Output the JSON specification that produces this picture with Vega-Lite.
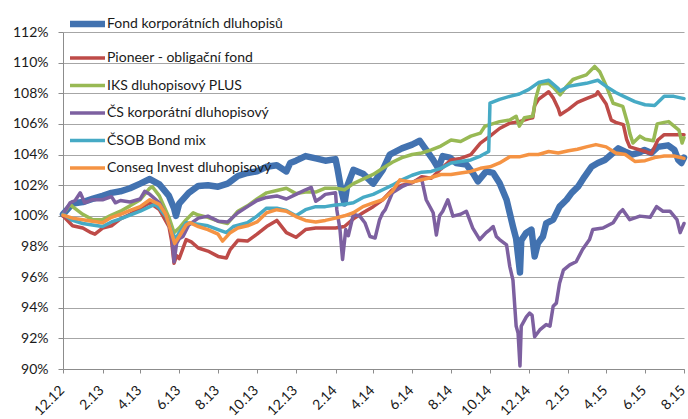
{
"$schema":"https://vega.github.io/schema/vega-lite/v6.json",
"width":621,"height":337,
"autosize":{"type":"none"},
"padding":{"left":63,"top":32,"right":4,"bottom":50},
"background":"white",
"config":{"view":{"stroke":null},"font":"Lato"},
"datasets":{"names":[{"code":"A","name":"Fond korporátních dluhopisů"},{"code":"B","name":"Pioneer - obligační fond"},{"code":"C","name":"IKS dluhopisový PLUS"},{"code":"D","name":"ČS korporátní dluhopisový"},{"code":"E","name":"ČSOB Bond mix"},{"code":"F","name":"Conseq Invest dluhopisový"}]},
"data":{"values":[
{"s":"A","d":"2012-12-01","v":100.1},{"s":"A","d":"2012-12-16","v":100.8},{"s":"A","d":"2013-01-01","v":100.9},{"s":"A","d":"2013-01-16","v":101.1},{"s":"A","d":"2013-02-01","v":101.3},{"s":"A","d":"2013-02-15","v":101.5},{"s":"A","d":"2013-03-01","v":101.6},{"s":"A","d":"2013-03-16","v":101.8},{"s":"A","d":"2013-04-01","v":102.1},{"s":"A","d":"2013-04-16","v":102.4},{"s":"A","d":"2013-05-01","v":102.05},{"s":"A","d":"2013-05-16","v":101.3},{"s":"A","d":"2013-05-24","v":100.5},{"s":"A","d":"2013-05-27","v":100.0},{"s":"A","d":"2013-06-01","v":100.8},{"s":"A","d":"2013-06-16","v":101.5},{"s":"A","d":"2013-07-01","v":101.95},{"s":"A","d":"2013-07-16","v":102.0},{"s":"A","d":"2013-08-01","v":101.9},{"s":"A","d":"2013-08-16","v":102.1},{"s":"A","d":"2013-09-01","v":102.6},{"s":"A","d":"2013-09-16","v":102.8},{"s":"A","d":"2013-10-01","v":102.9},{"s":"A","d":"2013-10-16","v":103.2},{"s":"A","d":"2013-11-01","v":103.3},{"s":"A","d":"2013-11-16","v":102.9},{"s":"A","d":"2013-11-22","v":103.45},{"s":"A","d":"2013-12-01","v":103.6},{"s":"A","d":"2013-12-16","v":103.9},{"s":"A","d":"2014-01-01","v":103.75},{"s":"A","d":"2014-01-16","v":103.6},{"s":"A","d":"2014-02-01","v":103.7},{"s":"A","d":"2014-02-04","v":103.1},{"s":"A","d":"2014-02-08","v":102.15},{"s":"A","d":"2014-02-11","v":101.5},{"s":"A","d":"2014-02-15","v":100.8},{"s":"A","d":"2014-02-19","v":101.9},{"s":"A","d":"2014-03-01","v":103.0},{"s":"A","d":"2014-03-16","v":102.75},{"s":"A","d":"2014-04-01","v":102.1},{"s":"A","d":"2014-04-16","v":103.0},{"s":"A","d":"2014-04-27","v":104.0},{"s":"A","d":"2014-05-16","v":104.4},{"s":"A","d":"2014-06-01","v":104.65},{"s":"A","d":"2014-06-13","v":104.9},{"s":"A","d":"2014-06-23","v":104.3},{"s":"A","d":"2014-07-04","v":103.65},{"s":"A","d":"2014-07-12","v":103.1},{"s":"A","d":"2014-07-19","v":103.9},{"s":"A","d":"2014-07-30","v":103.8},{"s":"A","d":"2014-08-09","v":103.45},{"s":"A","d":"2014-08-25","v":103.35},{"s":"A","d":"2014-09-04","v":102.8},{"s":"A","d":"2014-09-12","v":102.25},{"s":"A","d":"2014-09-25","v":102.9},{"s":"A","d":"2014-10-06","v":102.8},{"s":"A","d":"2014-10-16","v":102.15},{"s":"A","d":"2014-10-27","v":101.05},{"s":"A","d":"2014-11-06","v":99.3},{"s":"A","d":"2014-11-11","v":98.5},{"s":"A","d":"2014-11-17","v":96.3},{"s":"A","d":"2014-11-19","v":98.4},{"s":"A","d":"2014-11-27","v":98.9},{"s":"A","d":"2014-12-05","v":99.1},{"s":"A","d":"2014-12-10","v":97.35},{"s":"A","d":"2014-12-15","v":98.2},{"s":"A","d":"2014-12-23","v":98.65},{"s":"A","d":"2014-12-28","v":99.5},{"s":"A","d":"2015-01-08","v":99.75},{"s":"A","d":"2015-01-18","v":100.6},{"s":"A","d":"2015-01-29","v":101.05},{"s":"A","d":"2015-02-06","v":101.5},{"s":"A","d":"2015-02-16","v":101.9},{"s":"A","d":"2015-02-26","v":102.55},{"s":"A","d":"2015-03-09","v":103.2},{"s":"A","d":"2015-03-19","v":103.45},{"s":"A","d":"2015-03-30","v":103.65},{"s":"A","d":"2015-04-09","v":104.0},{"s":"A","d":"2015-04-20","v":104.4},{"s":"A","d":"2015-04-30","v":104.2},{"s":"A","d":"2015-05-11","v":104.0},{"s":"A","d":"2015-05-21","v":104.1},{"s":"A","d":"2015-05-31","v":104.3},{"s":"A","d":"2015-06-11","v":104.1},{"s":"A","d":"2015-06-21","v":104.5},{"s":"A","d":"2015-07-07","v":104.6},{"s":"A","d":"2015-07-17","v":104.3},{"s":"A","d":"2015-07-23","v":103.65},{"s":"A","d":"2015-07-28","v":103.45},{"s":"A","d":"2015-08-01","v":103.8},
{"s":"B","d":"2012-12-01","v":100.0},{"s":"B","d":"2012-12-16","v":99.35},{"s":"B","d":"2013-01-01","v":99.2},{"s":"B","d":"2013-01-14","v":98.9},{"s":"B","d":"2013-01-20","v":98.8},{"s":"B","d":"2013-02-01","v":99.2},{"s":"B","d":"2013-02-15","v":99.35},{"s":"B","d":"2013-03-01","v":99.8},{"s":"B","d":"2013-03-16","v":100.1},{"s":"B","d":"2013-04-01","v":100.5},{"s":"B","d":"2013-04-16","v":100.85},{"s":"B","d":"2013-05-01","v":100.4},{"s":"B","d":"2013-05-16","v":99.3},{"s":"B","d":"2013-05-20","v":98.4},{"s":"B","d":"2013-05-24","v":96.9},{"s":"B","d":"2013-05-28","v":97.4},{"s":"B","d":"2013-06-01","v":97.2},{"s":"B","d":"2013-06-12","v":98.45},{"s":"B","d":"2013-06-20","v":98.3},{"s":"B","d":"2013-07-01","v":97.9},{"s":"B","d":"2013-07-16","v":97.7},{"s":"B","d":"2013-08-01","v":97.35},{"s":"B","d":"2013-08-14","v":97.25},{"s":"B","d":"2013-08-20","v":97.8},{"s":"B","d":"2013-09-01","v":98.4},{"s":"B","d":"2013-09-16","v":98.35},{"s":"B","d":"2013-10-01","v":98.8},{"s":"B","d":"2013-10-16","v":99.3},{"s":"B","d":"2013-11-01","v":99.7},{"s":"B","d":"2013-11-16","v":98.9},{"s":"B","d":"2013-12-01","v":98.6},{"s":"B","d":"2013-12-16","v":99.1},{"s":"B","d":"2014-01-01","v":99.2},{"s":"B","d":"2014-01-16","v":99.2},{"s":"B","d":"2014-02-01","v":99.2},{"s":"B","d":"2014-02-15","v":99.3},{"s":"B","d":"2014-03-01","v":99.8},{"s":"B","d":"2014-03-16","v":100.2},{"s":"B","d":"2014-04-01","v":100.6},{"s":"B","d":"2014-04-16","v":101.05},{"s":"B","d":"2014-05-01","v":101.7},{"s":"B","d":"2014-05-16","v":102.0},{"s":"B","d":"2014-06-01","v":102.15},{"s":"B","d":"2014-06-16","v":102.55},{"s":"B","d":"2014-07-01","v":102.45},{"s":"B","d":"2014-07-16","v":103.05},{"s":"B","d":"2014-08-01","v":103.65},{"s":"B","d":"2014-08-16","v":103.75},{"s":"B","d":"2014-09-01","v":104.0},{"s":"B","d":"2014-09-16","v":104.75},{"s":"B","d":"2014-10-01","v":105.2},{"s":"B","d":"2014-10-16","v":105.7},{"s":"B","d":"2014-11-01","v":106.05},{"s":"B","d":"2014-11-16","v":106.15},{"s":"B","d":"2014-12-01","v":106.35},{"s":"B","d":"2014-12-07","v":106.4},{"s":"B","d":"2014-12-10","v":107.2},{"s":"B","d":"2014-12-16","v":107.6},{"s":"B","d":"2015-01-01","v":108.1},{"s":"B","d":"2015-01-08","v":107.7},{"s":"B","d":"2015-01-16","v":107.0},{"s":"B","d":"2015-01-19","v":106.6},{"s":"B","d":"2015-02-01","v":106.95},{"s":"B","d":"2015-02-15","v":107.4},{"s":"B","d":"2015-03-01","v":107.65},{"s":"B","d":"2015-03-16","v":107.9},{"s":"B","d":"2015-03-19","v":108.1},{"s":"B","d":"2015-04-01","v":107.3},{"s":"B","d":"2015-04-09","v":106.25},{"s":"B","d":"2015-04-16","v":106.1},{"s":"B","d":"2015-04-28","v":105.95},{"s":"B","d":"2015-05-03","v":105.0},{"s":"B","d":"2015-05-08","v":104.5},{"s":"B","d":"2015-05-16","v":104.4},{"s":"B","d":"2015-06-01","v":104.2},{"s":"B","d":"2015-06-11","v":104.05},{"s":"B","d":"2015-06-21","v":104.95},{"s":"B","d":"2015-07-01","v":105.3},{"s":"B","d":"2015-07-16","v":105.3},{"s":"B","d":"2015-08-01","v":105.3},
{"s":"C","d":"2012-12-01","v":100.1},{"s":"C","d":"2012-12-12","v":100.75},{"s":"C","d":"2012-12-16","v":100.6},{"s":"C","d":"2013-01-01","v":100.1},{"s":"C","d":"2013-01-16","v":99.75},{"s":"C","d":"2013-02-01","v":99.75},{"s":"C","d":"2013-02-15","v":100.05},{"s":"C","d":"2013-03-01","v":100.3},{"s":"C","d":"2013-03-16","v":100.65},{"s":"C","d":"2013-04-01","v":101.05},{"s":"C","d":"2013-04-16","v":101.8},{"s":"C","d":"2013-04-20","v":101.9},{"s":"C","d":"2013-05-01","v":101.3},{"s":"C","d":"2013-05-16","v":99.9},{"s":"C","d":"2013-05-24","v":98.9},{"s":"C","d":"2013-06-01","v":99.2},{"s":"C","d":"2013-06-12","v":99.75},{"s":"C","d":"2013-06-23","v":100.2},{"s":"C","d":"2013-07-01","v":100.05},{"s":"C","d":"2013-07-16","v":99.9},{"s":"C","d":"2013-08-01","v":99.65},{"s":"C","d":"2013-08-16","v":99.5},{"s":"C","d":"2013-09-01","v":100.3},{"s":"C","d":"2013-09-16","v":100.65},{"s":"C","d":"2013-10-01","v":101.1},{"s":"C","d":"2013-10-16","v":101.5},{"s":"C","d":"2013-11-01","v":101.65},{"s":"C","d":"2013-11-16","v":101.8},{"s":"C","d":"2013-12-01","v":101.45},{"s":"C","d":"2013-12-16","v":101.55},{"s":"C","d":"2014-01-01","v":101.55},{"s":"C","d":"2014-01-16","v":101.8},{"s":"C","d":"2014-02-01","v":101.8},{"s":"C","d":"2014-02-15","v":101.7},{"s":"C","d":"2014-03-01","v":102.1},{"s":"C","d":"2014-03-16","v":102.4},{"s":"C","d":"2014-04-01","v":102.7},{"s":"C","d":"2014-04-16","v":103.1},{"s":"C","d":"2014-05-01","v":103.5},{"s":"C","d":"2014-05-16","v":103.8},{"s":"C","d":"2014-06-01","v":104.0},{"s":"C","d":"2014-06-16","v":104.1},{"s":"C","d":"2014-07-01","v":104.3},{"s":"C","d":"2014-07-16","v":104.55},{"s":"C","d":"2014-08-01","v":104.95},{"s":"C","d":"2014-08-16","v":104.85},{"s":"C","d":"2014-09-01","v":105.2},{"s":"C","d":"2014-09-16","v":105.4},{"s":"C","d":"2014-09-23","v":105.85},{"s":"C","d":"2014-10-01","v":105.95},{"s":"C","d":"2014-10-16","v":106.15},{"s":"C","d":"2014-11-01","v":106.25},{"s":"C","d":"2014-11-11","v":106.5},{"s":"C","d":"2014-11-16","v":105.85},{"s":"C","d":"2014-11-24","v":106.4},{"s":"C","d":"2014-12-07","v":106.5},{"s":"C","d":"2014-12-12","v":107.7},{"s":"C","d":"2014-12-18","v":108.6},{"s":"C","d":"2015-01-01","v":108.65},{"s":"C","d":"2015-01-08","v":108.4},{"s":"C","d":"2015-01-19","v":107.9},{"s":"C","d":"2015-01-29","v":108.45},{"s":"C","d":"2015-02-08","v":108.9},{"s":"C","d":"2015-02-15","v":109.0},{"s":"C","d":"2015-03-01","v":109.2},{"s":"C","d":"2015-03-14","v":109.75},{"s":"C","d":"2015-03-22","v":109.4},{"s":"C","d":"2015-04-01","v":108.5},{"s":"C","d":"2015-04-12","v":107.35},{"s":"C","d":"2015-04-27","v":107.15},{"s":"C","d":"2015-05-05","v":106.0},{"s":"C","d":"2015-05-08","v":105.4},{"s":"C","d":"2015-05-13","v":104.75},{"s":"C","d":"2015-05-24","v":105.2},{"s":"C","d":"2015-06-01","v":105.0},{"s":"C","d":"2015-06-14","v":104.9},{"s":"C","d":"2015-06-20","v":106.0},{"s":"C","d":"2015-07-01","v":106.1},{"s":"C","d":"2015-07-08","v":106.15},{"s":"C","d":"2015-07-24","v":105.6},{"s":"C","d":"2015-07-29","v":104.75},{"s":"C","d":"2015-08-01","v":105.1},
{"s":"D","d":"2012-12-01","v":100.1},{"s":"D","d":"2012-12-12","v":100.85},{"s":"D","d":"2012-12-20","v":101.0},{"s":"D","d":"2012-12-28","v":101.5},{"s":"D","d":"2013-01-04","v":100.85},{"s":"D","d":"2013-01-16","v":101.05},{"s":"D","d":"2013-02-01","v":101.05},{"s":"D","d":"2013-02-15","v":101.25},{"s":"D","d":"2013-02-21","v":100.85},{"s":"D","d":"2013-03-01","v":101.0},{"s":"D","d":"2013-03-16","v":100.9},{"s":"D","d":"2013-04-01","v":101.1},{"s":"D","d":"2013-04-08","v":101.6},{"s":"D","d":"2013-04-16","v":101.4},{"s":"D","d":"2013-05-01","v":100.85},{"s":"D","d":"2013-05-12","v":99.98},{"s":"D","d":"2013-05-20","v":98.9},{"s":"D","d":"2013-05-24","v":97.0},{"s":"D","d":"2013-05-28","v":98.2},{"s":"D","d":"2013-06-01","v":98.5},{"s":"D","d":"2013-06-07","v":98.65},{"s":"D","d":"2013-06-16","v":99.4},{"s":"D","d":"2013-07-01","v":99.85},{"s":"D","d":"2013-07-16","v":99.98},{"s":"D","d":"2013-08-01","v":99.65},{"s":"D","d":"2013-08-16","v":99.6},{"s":"D","d":"2013-09-01","v":100.2},{"s":"D","d":"2013-09-16","v":100.6},{"s":"D","d":"2013-10-01","v":101.0},{"s":"D","d":"2013-10-16","v":101.2},{"s":"D","d":"2013-11-01","v":101.3},{"s":"D","d":"2013-11-16","v":101.1},{"s":"D","d":"2013-12-01","v":101.4},{"s":"D","d":"2013-12-16","v":101.7},{"s":"D","d":"2013-12-25","v":101.85},{"s":"D","d":"2014-01-01","v":100.95},{"s":"D","d":"2014-01-10","v":101.2},{"s":"D","d":"2014-01-16","v":101.4},{"s":"D","d":"2014-02-01","v":101.5},{"s":"D","d":"2014-02-03","v":100.4},{"s":"D","d":"2014-02-08","v":99.1},{"s":"D","d":"2014-02-12","v":97.15},{"s":"D","d":"2014-02-17","v":99.1},{"s":"D","d":"2014-02-21","v":98.7},{"s":"D","d":"2014-03-01","v":100.1},{"s":"D","d":"2014-03-11","v":99.98},{"s":"D","d":"2014-03-19","v":99.55},{"s":"D","d":"2014-03-27","v":98.65},{"s":"D","d":"2014-04-04","v":98.55},{"s":"D","d":"2014-04-11","v":99.75},{"s":"D","d":"2014-04-16","v":100.2},{"s":"D","d":"2014-04-20","v":100.4},{"s":"D","d":"2014-05-01","v":101.5},{"s":"D","d":"2014-05-16","v":101.9},{"s":"D","d":"2014-06-01","v":102.2},{"s":"D","d":"2014-06-16","v":102.4},{"s":"D","d":"2014-06-23","v":101.05},{"s":"D","d":"2014-07-04","v":100.2},{"s":"D","d":"2014-07-09","v":98.75},{"s":"D","d":"2014-07-14","v":100.0},{"s":"D","d":"2014-07-19","v":100.3},{"s":"D","d":"2014-07-27","v":101.05},{"s":"D","d":"2014-08-04","v":99.98},{"s":"D","d":"2014-08-16","v":100.1},{"s":"D","d":"2014-08-25","v":100.3},{"s":"D","d":"2014-09-04","v":99.2},{"s":"D","d":"2014-09-15","v":98.45},{"s":"D","d":"2014-09-25","v":98.9},{"s":"D","d":"2014-10-01","v":99.1},{"s":"D","d":"2014-10-06","v":99.3},{"s":"D","d":"2014-10-11","v":98.65},{"s":"D","d":"2014-10-16","v":98.45},{"s":"D","d":"2014-10-27","v":98.1},{"s":"D","d":"2014-11-01","v":96.7},{"s":"D","d":"2014-11-06","v":95.8},{"s":"D","d":"2014-11-11","v":92.8},{"s":"D","d":"2014-11-14","v":92.35},{"s":"D","d":"2014-11-17","v":90.2},{"s":"D","d":"2014-11-19","v":92.8},{"s":"D","d":"2014-11-27","v":93.4},{"s":"D","d":"2014-12-02","v":93.65},{"s":"D","d":"2014-12-06","v":93.5},{"s":"D","d":"2014-12-10","v":92.1},{"s":"D","d":"2014-12-18","v":92.55},{"s":"D","d":"2014-12-28","v":92.9},{"s":"D","d":"2015-01-03","v":92.8},{"s":"D","d":"2015-01-08","v":94.1},{"s":"D","d":"2015-01-13","v":94.3},{"s":"D","d":"2015-01-18","v":95.6},{"s":"D","d":"2015-01-24","v":96.45},{"s":"D","d":"2015-02-03","v":96.8},{"s":"D","d":"2015-02-13","v":97.0},{"s":"D","d":"2015-02-23","v":97.8},{"s":"D","d":"2015-03-06","v":98.45},{"s":"D","d":"2015-03-11","v":99.1},{"s":"D","d":"2015-03-27","v":99.2},{"s":"D","d":"2015-04-12","v":99.55},{"s":"D","d":"2015-04-22","v":100.2},{"s":"D","d":"2015-04-27","v":100.4},{"s":"D","d":"2015-05-08","v":99.75},{"s":"D","d":"2015-05-24","v":99.98},{"s":"D","d":"2015-06-09","v":99.9},{"s":"D","d":"2015-06-19","v":100.6},{"s":"D","d":"2015-06-29","v":100.3},{"s":"D","d":"2015-07-10","v":100.3},{"s":"D","d":"2015-07-21","v":99.75},{"s":"D","d":"2015-07-26","v":98.9},{"s":"D","d":"2015-07-31","v":99.4},{"s":"D","d":"2015-08-01","v":99.5},
{"s":"E","d":"2012-12-01","v":100.1},{"s":"E","d":"2012-12-16","v":99.7},{"s":"E","d":"2013-01-01","v":99.5},{"s":"E","d":"2013-01-16","v":99.4},{"s":"E","d":"2013-02-01","v":99.3},{"s":"E","d":"2013-02-15","v":99.6},{"s":"E","d":"2013-03-01","v":99.8},{"s":"E","d":"2013-03-16","v":100.05},{"s":"E","d":"2013-04-01","v":100.3},{"s":"E","d":"2013-04-16","v":100.6},{"s":"E","d":"2013-04-24","v":100.75},{"s":"E","d":"2013-05-01","v":100.5},{"s":"E","d":"2013-05-11","v":99.98},{"s":"E","d":"2013-05-21","v":98.9},{"s":"E","d":"2013-05-27","v":98.5},{"s":"E","d":"2013-06-01","v":98.9},{"s":"E","d":"2013-06-12","v":99.55},{"s":"E","d":"2013-07-01","v":99.45},{"s":"E","d":"2013-07-16","v":99.35},{"s":"E","d":"2013-08-01","v":99.1},{"s":"E","d":"2013-08-14","v":98.9},{"s":"E","d":"2013-08-25","v":99.3},{"s":"E","d":"2013-09-16","v":99.55},{"s":"E","d":"2013-10-01","v":99.98},{"s":"E","d":"2013-10-16","v":100.5},{"s":"E","d":"2013-11-01","v":100.5},{"s":"E","d":"2013-11-16","v":100.35},{"s":"E","d":"2013-12-01","v":100.0},{"s":"E","d":"2013-12-16","v":100.4},{"s":"E","d":"2014-01-01","v":100.6},{"s":"E","d":"2014-01-16","v":100.6},{"s":"E","d":"2014-02-01","v":100.7},{"s":"E","d":"2014-02-15","v":100.75},{"s":"E","d":"2014-03-01","v":100.85},{"s":"E","d":"2014-03-16","v":101.2},{"s":"E","d":"2014-04-01","v":101.4},{"s":"E","d":"2014-04-16","v":101.7},{"s":"E","d":"2014-05-01","v":102.0},{"s":"E","d":"2014-05-16","v":102.35},{"s":"E","d":"2014-06-01","v":102.65},{"s":"E","d":"2014-06-16","v":102.85},{"s":"E","d":"2014-07-01","v":102.9},{"s":"E","d":"2014-07-16","v":103.1},{"s":"E","d":"2014-08-01","v":103.45},{"s":"E","d":"2014-08-16","v":103.55},{"s":"E","d":"2014-09-01","v":103.65},{"s":"E","d":"2014-09-16","v":103.9},{"s":"E","d":"2014-09-29","v":104.2},{"s":"E","d":"2014-10-01","v":107.35},{"s":"E","d":"2014-10-16","v":107.6},{"s":"E","d":"2014-11-01","v":107.8},{"s":"E","d":"2014-11-16","v":107.95},{"s":"E","d":"2014-12-01","v":108.25},{"s":"E","d":"2014-12-16","v":108.7},{"s":"E","d":"2015-01-01","v":108.85},{"s":"E","d":"2015-01-16","v":108.3},{"s":"E","d":"2015-01-19","v":108.15},{"s":"E","d":"2015-02-01","v":108.45},{"s":"E","d":"2015-02-15","v":108.55},{"s":"E","d":"2015-03-01","v":108.65},{"s":"E","d":"2015-03-19","v":108.85},{"s":"E","d":"2015-04-01","v":108.45},{"s":"E","d":"2015-04-16","v":108.05},{"s":"E","d":"2015-05-01","v":107.75},{"s":"E","d":"2015-05-16","v":107.45},{"s":"E","d":"2015-06-01","v":107.25},{"s":"E","d":"2015-06-16","v":107.2},{"s":"E","d":"2015-07-01","v":107.8},{"s":"E","d":"2015-07-16","v":107.8},{"s":"E","d":"2015-08-01","v":107.65},
{"s":"F","d":"2012-12-01","v":100.05},{"s":"F","d":"2012-12-16","v":99.85},{"s":"F","d":"2013-01-01","v":99.75},{"s":"F","d":"2013-01-16","v":99.65},{"s":"F","d":"2013-02-01","v":99.55},{"s":"F","d":"2013-02-15","v":99.9},{"s":"F","d":"2013-03-01","v":100.1},{"s":"F","d":"2013-03-16","v":100.35},{"s":"F","d":"2013-04-01","v":100.6},{"s":"F","d":"2013-04-16","v":101.05},{"s":"F","d":"2013-05-01","v":100.75},{"s":"F","d":"2013-05-11","v":100.1},{"s":"F","d":"2013-05-20","v":98.9},{"s":"F","d":"2013-05-25","v":98.2},{"s":"F","d":"2013-06-01","v":98.65},{"s":"F","d":"2013-06-12","v":99.4},{"s":"F","d":"2013-06-18","v":99.55},{"s":"F","d":"2013-07-01","v":99.3},{"s":"F","d":"2013-07-16","v":99.1},{"s":"F","d":"2013-08-01","v":98.8},{"s":"F","d":"2013-08-08","v":98.35},{"s":"F","d":"2013-08-20","v":98.9},{"s":"F","d":"2013-09-01","v":99.2},{"s":"F","d":"2013-09-16","v":99.35},{"s":"F","d":"2013-10-01","v":99.6},{"s":"F","d":"2013-10-16","v":100.2},{"s":"F","d":"2013-11-01","v":100.4},{"s":"F","d":"2013-11-16","v":100.3},{"s":"F","d":"2013-12-01","v":99.95},{"s":"F","d":"2013-12-16","v":99.7},{"s":"F","d":"2014-01-01","v":99.6},{"s":"F","d":"2014-01-16","v":99.7},{"s":"F","d":"2014-02-01","v":99.85},{"s":"F","d":"2014-02-15","v":100.0},{"s":"F","d":"2014-03-01","v":100.2},{"s":"F","d":"2014-03-16","v":100.6},{"s":"F","d":"2014-04-01","v":100.85},{"s":"F","d":"2014-04-16","v":101.05},{"s":"F","d":"2014-05-01","v":101.6},{"s":"F","d":"2014-05-13","v":102.35},{"s":"F","d":"2014-05-16","v":102.3},{"s":"F","d":"2014-06-01","v":102.2},{"s":"F","d":"2014-06-16","v":102.35},{"s":"F","d":"2014-07-01","v":102.5},{"s":"F","d":"2014-07-16","v":102.7},{"s":"F","d":"2014-08-01","v":102.7},{"s":"F","d":"2014-08-16","v":102.8},{"s":"F","d":"2014-09-01","v":102.9},{"s":"F","d":"2014-09-16","v":103.1},{"s":"F","d":"2014-10-01","v":103.2},{"s":"F","d":"2014-10-16","v":103.45},{"s":"F","d":"2014-11-01","v":103.85},{"s":"F","d":"2014-11-16","v":103.85},{"s":"F","d":"2014-12-01","v":104.0},{"s":"F","d":"2014-12-16","v":104.0},{"s":"F","d":"2015-01-01","v":104.2},{"s":"F","d":"2015-01-16","v":104.1},{"s":"F","d":"2015-02-01","v":104.25},{"s":"F","d":"2015-02-15","v":104.35},{"s":"F","d":"2015-03-01","v":104.5},{"s":"F","d":"2015-03-16","v":104.65},{"s":"F","d":"2015-04-01","v":104.5},{"s":"F","d":"2015-04-16","v":104.1},{"s":"F","d":"2015-05-01","v":104.0},{"s":"F","d":"2015-05-16","v":103.55},{"s":"F","d":"2015-06-01","v":103.6},{"s":"F","d":"2015-06-16","v":103.8},{"s":"F","d":"2015-07-01","v":103.9},{"s":"F","d":"2015-07-16","v":103.9},{"s":"F","d":"2015-08-01","v":103.75}
]},
"transform":[{"lookup":"s","from":{"data":{"name":"names"},"key":"code","fields":["name"]}}],
"mark":{"type":"line","strokeJoin":"round","strokeCap":"round"},
"encoding":{
"x":{"field":"d","type":"temporal","scale":{"type":"utc","domain":[{"year":2012,"month":12,"date":1,"utc":true},{"year":2015,"month":8,"date":1,"utc":true}]},
"axis":{"title":null,"values":[{"year":2012,"month":12,"date":1,"utc":true},{"year":2013,"month":2,"date":1,"utc":true},{"year":2013,"month":4,"date":1,"utc":true},{"year":2013,"month":6,"date":1,"utc":true},{"year":2013,"month":8,"date":1,"utc":true},{"year":2013,"month":10,"date":1,"utc":true},{"year":2013,"month":12,"date":1,"utc":true},{"year":2014,"month":2,"date":1,"utc":true},{"year":2014,"month":4,"date":1,"utc":true},{"year":2014,"month":6,"date":1,"utc":true},{"year":2014,"month":8,"date":1,"utc":true},{"year":2014,"month":10,"date":1,"utc":true},{"year":2014,"month":12,"date":1,"utc":true},{"year":2015,"month":2,"date":1,"utc":true},{"year":2015,"month":4,"date":1,"utc":true},{"year":2015,"month":6,"date":1,"utc":true},{"year":2015,"month":8,"date":1,"utc":true}],
"format":"%-m.%y","labelAngle":-45,"labelAlign":"right","labelBaseline":"top","labelPadding":10,"labelOffset":-6,"tickSize":4,"tickColor":"#8c8c8c","domainColor":"#8c8c8c","grid":false,"labelFont":"Lato","labelFontSize":14,"labelColor":"#1a1a1a","labelOverlap":false,"labelBound":false,"labelFlush":false}},
"y":{"field":"v","type":"quantitative","scale":{"domain":[90,112],"nice":false,"zero":false},
"axis":{"title":null,"values":[90,92,94,96,98,100,102,104,106,108,110,112],"labelExpr":"datum.value + '%'","grid":true,"gridColor":"#a6a6a6","gridWidth":1,"domainColor":"#8c8c8c","tickColor":"#8c8c8c","tickSize":5,"labelPadding":10,"labelFont":"Lato","labelFontSize":14,"labelColor":"#1a1a1a"}},
"color":{"field":"name","type":"nominal","scale":{"domain":["Fond korporátních dluhopisů","Pioneer - obligační fond","IKS dluhopisový PLUS","ČS korporátní dluhopisový","ČSOB Bond mix","Conseq Invest dluhopisový"],"range":["#4272b0","#be4b48","#98b954","#7d60a0","#46aac5","#f59343"]},
"legend":{"title":null,"orient":"none","legendX":16,"legendY":-16.5,"direction":"vertical","symbolType":"M-3.5,0H3.5","symbolSize":100,"labelFont":"Lato","labelFontSize":14,"labelColor":"#1a1a1a","labelOffset":11,"rowPadding":13.5,"padding":0,"labelLimit":300}},
"strokeWidth":{"field":"name","type":"nominal","scale":{"type":"ordinal","domain":["Fond korporátních dluhopisů","Pioneer - obligační fond","IKS dluhopisový PLUS","ČS korporátní dluhopisový","ČSOB Bond mix","Conseq Invest dluhopisový"],"range":[6.5,3.5,3.5,3.5,3.5,3.5]},
"legend":{"title":null,"orient":"none","legendX":16,"legendY":-16.5,"direction":"vertical","symbolType":"M-3.5,0H3.5","symbolSize":100,"labelFont":"Lato","labelFontSize":14,"labelColor":"#1a1a1a","labelOffset":11,"rowPadding":13.5,"padding":0,"labelLimit":300}}
}
}
